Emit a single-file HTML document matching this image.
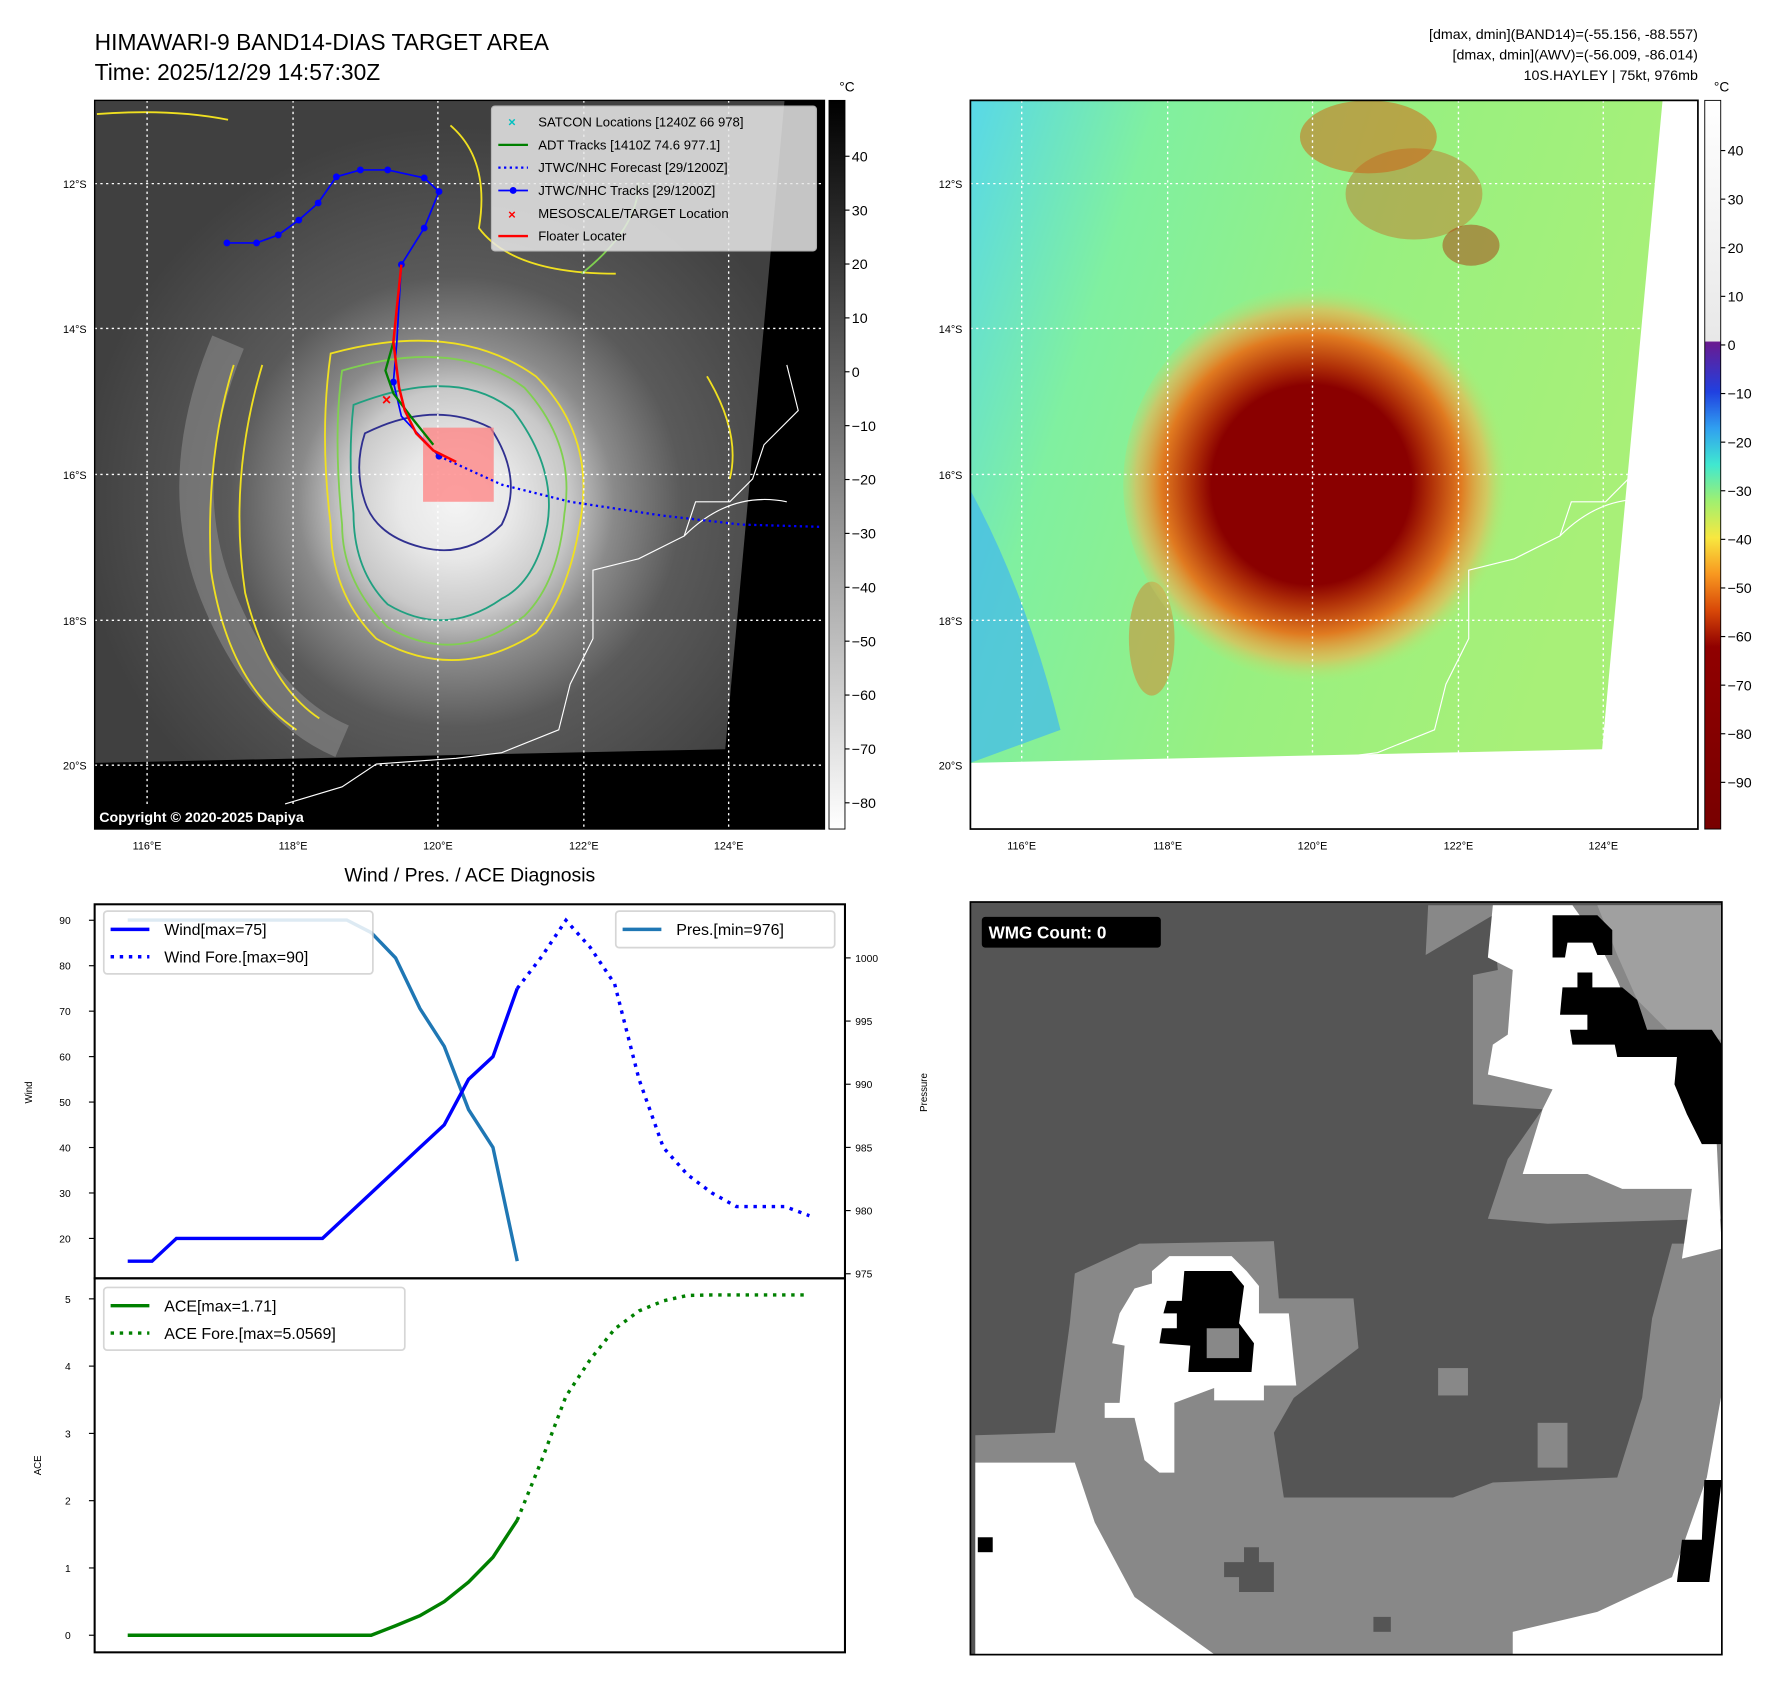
<!DOCTYPE html>
<html><head><meta charset="utf-8"><style>
html,body{margin:0;padding:0;background:#fff}
svg{display:block;font-family:"Liberation Sans","DejaVu Sans",sans-serif}
</style></head><body>
<svg id="root" width="1788" height="1690" viewBox="0 0 1568 1482" xmlns="http://www.w3.org/2000/svg">
<defs>
 <radialGradient id="irg" cx="400" cy="440" r="330" gradientUnits="userSpaceOnUse">
  <stop offset="0" stop-color="#f4f4f4"/><stop offset="0.15" stop-color="#e8e8e8"/>
  <stop offset="0.3" stop-color="#c8c8c8"/><stop offset="0.42" stop-color="#8a8a8a"/>
  <stop offset="0.6" stop-color="#5a5a5a"/><stop offset="1" stop-color="#404040"/>
 </radialGradient>
 <linearGradient id="cbL" x1="0" y1="0" x2="0" y2="1">
  <stop offset="0" stop-color="#000"/><stop offset="1" stop-color="#fff"/>
 </linearGradient>
 <linearGradient id="cbR" x1="0" y1="88" x2="0" y2="727" gradientUnits="userSpaceOnUse">
  <stop offset="0" stop-color="#ffffff"/><stop offset="0.33" stop-color="#e8e8e8"/>
  <stop offset="0.332" stop-color="#6a1a90"/><stop offset="0.40" stop-color="#2040e0"/>
  <stop offset="0.45" stop-color="#30a0f0"/><stop offset="0.5" stop-color="#40e8d0"/>
  <stop offset="0.55" stop-color="#a0f070"/><stop offset="0.60" stop-color="#f8e840"/>
  <stop offset="0.65" stop-color="#f89820"/><stop offset="0.70" stop-color="#d84808"/>
  <stop offset="0.75" stop-color="#900000"/><stop offset="1" stop-color="#780000"/>
 </linearGradient>
 <linearGradient id="rbg" x1="0" y1="0" x2="1" y2="0.3">
  <stop offset="0" stop-color="#58d8e8"/><stop offset="0.25" stop-color="#80f0a0"/>
  <stop offset="0.6" stop-color="#98f080"/><stop offset="1" stop-color="#a8f078"/>
 </linearGradient>
 <radialGradient id="reye" cx="1150" cy="425" r="175" gradientUnits="userSpaceOnUse">
  <stop offset="0" stop-color="#8a0000"/><stop offset="0.5" stop-color="#8a0000"/>
  <stop offset="0.6" stop-color="#b03008"/><stop offset="0.75" stop-color="#e07a20"/>
  <stop offset="0.88" stop-color="#f0b050" stop-opacity="0.6"/><stop offset="1" stop-color="#a8f078" stop-opacity="0"/>
 </radialGradient>
 <clipPath id="clipL"><rect x="83" y="88" width="640" height="639"/></clipPath>
 <clipPath id="clipR"><rect x="851" y="88" width="638" height="639"/></clipPath>
 <clipPath id="clipBR"><rect x="851" y="791" width="659" height="660"/></clipPath>
</defs>

<text x="83" y="44" font-size="20">HIMAWARI-9 BAND14-DIAS TARGET AREA</text>
<text x="83" y="70" font-size="20">Time: 2025/12/29 14:57:30Z</text>
<g font-size="12.5" text-anchor="end">
 <text x="1489" y="34">[dmax, dmin](BAND14)=(-55.156, -88.557)</text>
 <text x="1489" y="52">[dmax, dmin](AWV)=(-56.009, -86.014)</text>
 <text x="1489" y="70">10S.HAYLEY | 75kt, 976mb</text>
</g>

<g clip-path="url(#clipL)">
 <rect x="83" y="88" width="640" height="639" fill="#000"/>
 <polygon points="83,88 688,88 636,657 83,669" fill="url(#irg)"/>
 <path d="M200,300 Q150,420 190,520 Q230,620 300,650" stroke="#8a8a8a" stroke-width="30" fill="none" opacity="0.6"/>
 <g fill="none" stroke-width="1.6">
  <path d="M290,310 Q400,280 470,330 Q520,380 510,450 Q500,520 470,555 Q400,600 330,560 Q290,520 290,460 Q280,380 290,310Z" stroke="#f0e020"/>
  <path d="M300,325 Q400,295 460,340 Q505,390 495,450 Q490,510 460,540 Q400,585 340,550 Q300,510 300,460 Q292,380 300,325Z" stroke="#80d050"/>
  <path d="M310,355 Q400,320 450,360 Q488,410 480,460 Q470,510 440,525 Q390,560 340,530 Q310,500 310,450 Q305,400 310,355Z" stroke="#20a080"/>
  <path d="M320,380 Q380,350 430,375 Q460,420 440,460 Q410,490 370,480 Q330,470 320,440 Q310,410 320,380Z" stroke="#303090"/>
  <path d="M205,320 Q180,400 185,500 Q200,600 260,640" stroke="#f0e020"/>
  <path d="M230,320 Q200,420 215,520 Q235,600 280,630" stroke="#f0e020"/>
  <path d="M395,110 Q430,140 420,200 Q450,240 540,240" stroke="#f0e020"/>
  <path d="M510,240 Q560,200 560,160" stroke="#80d050"/>
  <path d="M85,100 Q150,95 200,105" stroke="#f0e020"/>
  <path d="M620,330 Q650,380 640,420" stroke="#f0e020"/>
 </g>
 <path id="coast" d="M690,320 L700,360 L670,390 L660,420 L640,440 L610,440 L600,470 L560,490 L520,500 L520,560 L500,600 L490,640 L440,660 L400,665 L330,670 L300,690 L250,705" fill="none" stroke="#fff" stroke-width="1"/>
 <path d="M600,470 Q640,430 690,440" fill="none" stroke="#fff" stroke-width="1"/>
 <g stroke="#fff" stroke-dasharray="2,3" stroke-width="1.2">
  <line x1="129" y1="88" x2="129" y2="727"/><line x1="257" y1="88" x2="257" y2="727"/>
  <line x1="384" y1="88" x2="384" y2="727"/><line x1="512" y1="88" x2="512" y2="727"/>
  <line x1="639" y1="88" x2="639" y2="727"/>
  <line x1="83" y1="161" x2="723" y2="161"/><line x1="83" y1="288" x2="723" y2="288"/>
  <line x1="83" y1="416" x2="723" y2="416"/><line x1="83" y1="544" x2="723" y2="544"/>
  <line x1="83" y1="671" x2="723" y2="671"/>
 </g>
 <rect x="371" y="375" width="62" height="65" fill="#ff8080" opacity="0.75"/>
 <polyline points="385,400 440,425 500,440 580,452 650,460 720,462" fill="none" stroke="#0000ff" stroke-width="2" stroke-dasharray="2,3"/>
 <polyline points="199,213 225,213 244,206 262,193 279,178 295,155 316,149 340,149 372,156 385,168 372,200 352,232 350,265 348,300 345,335 352,365 385,400" fill="none" stroke="#0000ff" stroke-width="1.5"/>
 <g fill="#0000ff">
  <circle cx="199" cy="213" r="3"/><circle cx="225" cy="213" r="3"/><circle cx="244" cy="206" r="3"/><circle cx="262" cy="193" r="3"/><circle cx="279" cy="178" r="3"/><circle cx="295" cy="155" r="3"/><circle cx="316" cy="149" r="3"/><circle cx="340" cy="149" r="3"/><circle cx="372" cy="156" r="3"/><circle cx="385" cy="168" r="3"/><circle cx="372" cy="200" r="3"/><circle cx="352" cy="232" r="3"/><circle cx="345" cy="335" r="3"/><circle cx="385" cy="400" r="3"/>
 </g>
 <polyline points="345,300 338,325 345,345 360,365 380,390" fill="none" stroke="#008000" stroke-width="2"/>
 <polyline points="352,232 348,270 345,300 350,340 355,360 365,380 380,395 400,405" fill="none" stroke="#ff0000" stroke-width="2.2"/>
 <text x="339" y="355" font-size="14" fill="#ff0000" text-anchor="middle" font-weight="bold">×</text>
 <rect x="83" y="706" width="272" height="21" fill="#000"/>
 <text x="87" y="721" font-size="12.5" font-weight="bold" fill="#fff">Copyright © 2020-2025 Dapiya</text>
</g>
<rect x="83" y="88" width="640" height="639" fill="none" stroke="#000" stroke-width="1.2"/>
<g font-size="11.5">
 <rect x="431" y="93" width="285" height="127" rx="3" fill="#e8e8e8" opacity="0.85" stroke="#ccc"/>
 <text x="449" y="111" fill="#00c0c0" text-anchor="middle" font-weight="bold">×</text><text x="472" y="111">SATCON Locations [1240Z 66 978]</text>
 <line x1="437" y1="127" x2="463" y2="127" stroke="#008000" stroke-width="2"/><text x="472" y="131">ADT Tracks [1410Z 74.6 977.1]</text>
 <line x1="437" y1="147" x2="463" y2="147" stroke="#0000ff" stroke-width="2" stroke-dasharray="2,3"/><text x="472" y="151">JTWC/NHC Forecast [29/1200Z]</text>
 <line x1="437" y1="167" x2="463" y2="167" stroke="#0000ff" stroke-width="1.5"/><circle cx="450" cy="167" r="3" fill="#0000ff"/><text x="472" y="171">JTWC/NHC Tracks [29/1200Z]</text>
 <text x="449" y="192" fill="#ff0000" text-anchor="middle" font-weight="bold">×</text><text x="472" y="191">MESOSCALE/TARGET Location</text>
 <line x1="437" y1="207" x2="463" y2="207" stroke="#ff0000" stroke-width="2"/><text x="472" y="211">Floater Locater</text>
</g>
<g font-size="9.5">
 <g text-anchor="middle"><text x="129" y="745">116°E</text><text x="257" y="745">118°E</text><text x="384" y="745">120°E</text><text x="512" y="745">122°E</text><text x="639" y="745">124°E</text></g>
 <g text-anchor="end"><text x="76" y="165">12°S</text><text x="76" y="292">14°S</text><text x="76" y="420">16°S</text><text x="76" y="548">18°S</text><text x="76" y="675">20°S</text></g>
</g>
<g>
 <rect x="727" y="88" width="14" height="639" fill="url(#cbL)" stroke="#000" stroke-width="0.8"/>
 <text x="736" y="80" font-size="12">°C</text>
 <g font-size="12.5" id="cbLt"></g>
</g>

<g clip-path="url(#clipR)">
 <rect x="851" y="88" width="638" height="639" fill="#fff"/>
 <polygon points="851,88 1458,88 1405,657 851,669" fill="url(#rbg)"/>
 <path d="M851,430 Q900,520 930,640 L851,669Z" fill="#40b8f0" opacity="0.7"/>
 <ellipse cx="1200" cy="120" rx="60" ry="32" fill="#d06a18" opacity="0.55"/>
 <ellipse cx="1240" cy="170" rx="60" ry="40" fill="#c85a18" opacity="0.4"/>
 <ellipse cx="1290" cy="215" rx="25" ry="18" fill="#a83a10" opacity="0.5"/>
 <ellipse cx="1010" cy="560" rx="20" ry="50" fill="#e07020" opacity="0.45"/>
 <ellipse cx="1160" cy="425" rx="175" ry="175" fill="url(#reye)"/>
 <use href="#coast" transform="translate(768,0)"/>
 <path d="M1368,470 Q1408,430 1458,440" fill="none" stroke="#fff" stroke-width="1"/>
 <g stroke="#fff" stroke-dasharray="2,3" stroke-width="1.2">
  <line x1="896" y1="88" x2="896" y2="727"/><line x1="1024" y1="88" x2="1024" y2="727"/>
  <line x1="1151" y1="88" x2="1151" y2="727"/><line x1="1279" y1="88" x2="1279" y2="727"/>
  <line x1="1406" y1="88" x2="1406" y2="727"/>
  <line x1="851" y1="161" x2="1489" y2="161"/><line x1="851" y1="288" x2="1489" y2="288"/>
  <line x1="851" y1="416" x2="1489" y2="416"/><line x1="851" y1="544" x2="1489" y2="544"/>
  <line x1="851" y1="671" x2="1489" y2="671"/>
 </g>
</g>
<rect x="851" y="88" width="638" height="639" fill="none" stroke="#000" stroke-width="1.5"/>
<g font-size="9.5">
 <g text-anchor="middle"><text x="896" y="745">116°E</text><text x="1024" y="745">118°E</text><text x="1151" y="745">120°E</text><text x="1279" y="745">122°E</text><text x="1406" y="745">124°E</text></g>
 <g text-anchor="end"><text x="844" y="165">12°S</text><text x="844" y="292">14°S</text><text x="844" y="420">16°S</text><text x="844" y="548">18°S</text><text x="844" y="675">20°S</text></g>
</g>
<g>
 <rect x="1495" y="88" width="14" height="639" fill="url(#cbR)" stroke="#000" stroke-width="0.8"/>
 <text x="1503" y="80" font-size="12">°C</text>
 <g font-size="12.5" id="cbRt"></g>
</g>

<text x="412" y="773" font-size="17" text-anchor="middle">Wind / Pres. / ACE Diagnosis</text>
<g id="chart"></g>

<g clip-path="url(#clipBR)">
 <rect x="851" y="791" width="659" height="660" fill="#555"/>
 <g transform="translate(855.3,789.5) scale(0.4364)">
  <polygon fill="#888" points="0,1075 160,1070 190,850 200,750 330,690 600,685 610,800 760,800 770,900 640,1000 600,1070 620,1200 960,1200 1040,1170 1290,1160 1340,1000 1360,840 1400,690 1500,690 1500,1515 0,1515"/>
  <polygon fill="#888" points="910,10 1500,10 1500,640 1150,650 1030,640 1070,520 1140,420 1000,410 1000,150 1050,140 1040,30 905,110"/>
  <polygon fill="#a0a0a0" points="1250,10 1500,10 1500,280 1400,270 1330,200 1290,110"/>
  <polygon fill="#fff" points="0,1130 200,1130 240,1250 320,1400 480,1515 0,1515"/>
  <polygon fill="#fff" points="1500,990 1470,1160 1400,1360 1250,1430 1080,1470 1080,1515 1500,1515"/>
  <polygon fill="#fff" points="1040,10 1200,10 1250,80 1290,160 1330,260 1420,270 1430,430 1490,490 1500,700 1420,720 1440,580 1300,580 1230,550 1100,550 1140,420 1160,380 1030,350 1040,290 1070,270 1080,140 1030,115"/>
  <polygon fill="#000" points="1160,30 1250,30 1280,60 1280,110 1250,110 1240,85 1190,85 1185,115 1160,115"/>
  <polygon fill="#000" points="1210,145 1240,145 1240,175 1300,175 1330,200 1350,260 1480,260 1500,290 1500,490 1460,490 1430,430 1405,370 1410,315 1290,315 1285,290 1200,290 1195,260 1230,260 1230,230 1175,230 1180,175 1210,175"/>
  <polygon fill="#fff" points="390,715 515,715 545,745 570,775 570,830 630,830 645,975 580,975 580,1005 480,1005 480,980 400,1010 400,1150 370,1150 340,1125 320,1040 260,1040 260,1010 290,1010 300,895 275,890 290,830 320,780 355,770 355,745"/>
  <polygon fill="#000" points="420,745 515,745 540,775 530,850 560,890 555,948 428,948 432,895 370,890 375,860 405,860 405,830 378,830 385,805 415,805"/>
  <rect x="465" y="860" width="65" height="60" fill="#888"/>
  <polygon fill="#000" points="1465,1165 1500,1165 1475,1370 1410,1370 1420,1285 1460,1285"/>
  <rect x="5" y="1280" width="30" height="30" fill="#000"/>
  <polygon fill="#555" points="540,1300 570,1300 570,1330 600,1330 600,1390 530,1390 530,1360 500,1360 500,1330 540,1330"/>
  <rect x="800" y="1440" width="35" height="30" fill="#555"/>
  <rect x="930" y="940" width="60" height="55" fill="#888"/>
  <rect x="1130" y="1050" width="60" height="90" fill="#888"/>
 </g>
</g>
<rect x="851" y="791" width="659" height="660" fill="none" stroke="#000" stroke-width="1.5"/>
<rect x="861" y="804" width="157" height="27" rx="3" fill="#000"/>
<text x="867" y="823" font-size="15" font-weight="bold" fill="#fff">WMG Count: 0</text>

<script>
const windObs = [15,15,20,20,20,20,20,20,20,25,30,35,40,45,55,60,75];
const windFcst = [75,82,90,84,76,55,40,34,30,27,27,27,25];
const presObs = [1003,1003,1003,1003,1003,1003,1003,1003,1003,1003,1002,1000,996,993,988,985,976];
const aceObs = [0,0,0,0,0,0,0,0,0,0,0,0.14,0.29,0.5,0.79,1.16,1.71];
const aceFcst = [1.71,2.6,3.55,4.1,4.55,4.82,4.97,5.05,5.0569,5.0569,5.0569,5.0569,5.0569];
const windTicks = [20,30,40,50,60,70,80,90];
const presTicks = [975,980,985,990,995,1000];
const aceTicks = [0,1,2,3,4,5];
const irTicks = [40,30,20,10,0,-10,-20,-30,-40,-50,-60,-70,-80];
const awvTicks = [40,30,20,10,0,-10,-20,-30,-40,-50,-60,-70,-80,-90];

const NS='http://www.w3.org/2000/svg';
const xOf = i => 112 + i*21.35;
const yWind = v => 807 + (90-v)*3.986;
const yPres = p => 840 + (1000-p)*11.08;
const yAce = a => 1434 - a*59;
const yIr = v => 137 + (40-v)*4.725;
const yAwv = v => 132 + (40-v)*4.262;
function mk(parent, tag, attrs){const e=document.createElementNS(NS,tag);for(const k in attrs)e.setAttribute(k,attrs[k]);parent.appendChild(e);return e;}
function txt(parent, x, y, s, anchor, size){const t=mk(parent,'text',{x:x,y:y,'text-anchor':anchor,'font-size':size});t.textContent=s;return t;}

const cl=document.getElementById('cbLt');
irTicks.forEach(v=>{mk(cl,'line',{x1:741,x2:745,y1:yIr(v),y2:yIr(v),stroke:'#000'});const t=txt(cl,747,yIr(v)+4.5,String(v).replace('-','\u2212'),'start',12.5);

});
const cr=document.getElementById('cbRt');
awvTicks.forEach(v=>{mk(cr,'line',{x1:1509,x2:1513,y1:yAwv(v),y2:yAwv(v),stroke:'#000'});const t=txt(cr,1515,yAwv(v)+4.5,String(v).replace('-','\u2212'),'start',12.5);

});

const g=document.getElementById('chart');
function line(pts, attrs, name){const p=mk(g,'polyline',Object.assign({points:pts.map(q=>q[0].toFixed(1)+','+q[1].toFixed(1)).join(' '),fill:'none'},attrs));

return p;}
mk(g,'rect',{x:83,y:793,width:658,height:328,fill:'none',stroke:'#000','stroke-width':1.8});
mk(g,'rect',{x:83,y:1121,width:658,height:328,fill:'none',stroke:'#000','stroke-width':1.8});
windTicks.forEach(v=>{mk(g,'line',{x1:78,x2:83,y1:yWind(v),y2:yWind(v),stroke:'#000'});const t=txt(g,62,yWind(v)+3.5,String(v),'end',9);

});
presTicks.forEach(v=>{mk(g,'line',{x1:741,x2:746,y1:yPres(v),y2:yPres(v),stroke:'#000'});const t=txt(g,750,yPres(v)+3.5,String(v),'start',9);

});
aceTicks.forEach(v=>{mk(g,'line',{x1:78,x2:83,y1:yAce(v),y2:yAce(v),stroke:'#000'});const t=txt(g,62,yAce(v)+3.5,String(v),'end',9);

});
[['Wind',28,958,'wind-axis-title'],['Pressure',813,958,'pressure-axis-title'],['ACE',36,1285,'ace-axis-title']].forEach(a=>{const t=txt(g,a[1],a[2],a[0],'middle',8.5);t.setAttribute('transform','rotate(-90 '+a[1]+' '+a[2]+')');

});

line(presObs.map((v,i)=>[xOf(i),yPres(v)]),{stroke:'#1f77b4','stroke-width':3},'pressure-line');
line(windObs.map((v,i)=>[xOf(i),yWind(v)]),{stroke:'#0000ff','stroke-width':3},'wind-line');
const off=windObs.length-1;
line(windFcst.map((v,i)=>[xOf(i+off),yWind(v)]),{stroke:'#0000ff','stroke-width':3,'stroke-dasharray':'3,5'},'wind-forecast-line');
line(aceObs.map((v,i)=>[xOf(i),yAce(v)]),{stroke:'#008000','stroke-width':3},'ace-line');
line(aceFcst.map((v,i)=>[xOf(i+off),yAce(v)]),{stroke:'#008000','stroke-width':3,'stroke-dasharray':'3,5'},'ace-forecast-line');

function legend(x,y,w,h,items,name){const lg=mk(g,'g',{});


mk(lg,'rect',{x:x,y:y,width:w,height:h,rx:3,fill:'#fff',opacity:0.85,stroke:'#d0d0d0','stroke-width':1.5});
items.forEach((it,k)=>{const yy=y+16+k*24;mk(lg,'line',Object.assign({x1:x+6,x2:x+40,y1:yy,y2:yy,stroke:it[1],'stroke-width':3},it[2]?{'stroke-dasharray':'3,5'}:{}));txt(lg,x+53,yy+5,it[0],'start',14);});}
legend(91,799,236,55,[['Wind[max=75]','#0000ff',false],['Wind Fore.[max=90]','#0000ff',true]],'wind-legend');
legend(540,799,192,32,[['Pres.[min=976]','#1f77b4',false]],'pressure-legend');
legend(91,1129,264,55,[['ACE[max=1.71]','#008000',false],['ACE Fore.[max=5.0569]','#008000',true]],'ace-legend');
</script>
</svg>
</body></html>
